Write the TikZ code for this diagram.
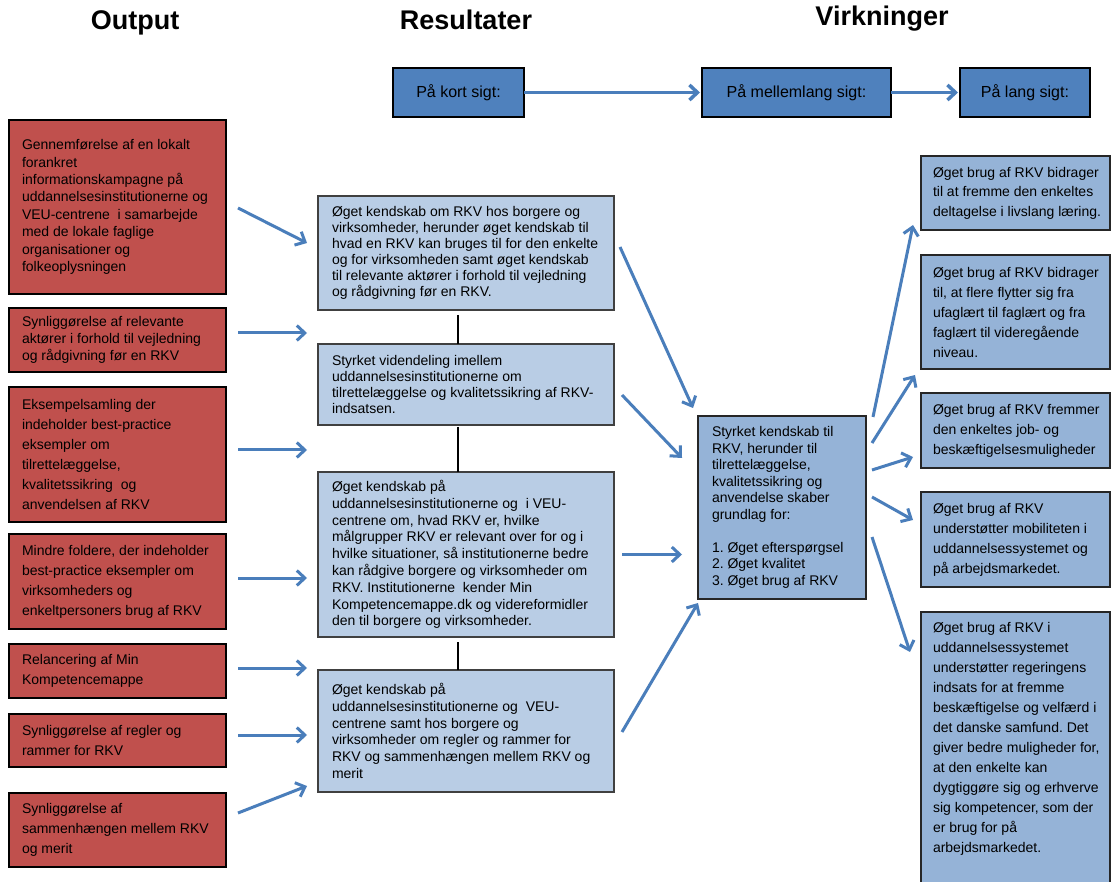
\documentclass[tikz,border=0pt]{standalone}
\usepackage{fontspec}
\setmainfont{Liberation Sans}
\usetikzlibrary{arrows.meta,calc}
\definecolor{redfill}{HTML}{C0504D}
\definecolor{paleblue}{HTML}{B9CDE5}
\definecolor{midblue}{HTML}{95B3D7}
\definecolor{topblue}{HTML}{4F81BD}
\definecolor{arrowblue}{HTML}{4A7EBB}
\definecolor{edgegray}{HTML}{404040}
\frenchspacing
\begin{document}
\begin{tikzpicture}[x=1pt,y=-1pt,
  every node/.style={inner sep=0pt, outer sep=0pt},
  redbox/.style={rectangle, draw=black, line width=1.2pt, fill=redfill, anchor=north west},
  palebox/.style={rectangle, draw=edgegray, line width=1.5pt, fill=paleblue, anchor=north west},
  bluebox/.style={rectangle, draw=black!85, line width=1.3pt, fill=midblue, anchor=north west},
  topbox/.style={rectangle, draw=black, line width=1.2pt, fill=topblue, anchor=north west, font=\fontsize{16}{18}\selectfont},
  bodytext/.style={align=left, anchor=west, text=black},
  title/.style={font=\bfseries\fontsize{27}{30}\selectfont, anchor=base},
  arr/.style={draw=arrowblue, line width=3pt, -{Straight Barb[length=8pt,width=15pt]}},
  joinline/.style={draw=black, line width=2pt}
]
\path[use as bounding box] (0,0) rectangle (1112,882);
\clip (0,0) rectangle (1112,882);
\fill[white] (0,0) rectangle (1112,882);

% titles
\node[title] (tOut) at (135,30) {Output};
\node[title] (tRes) at (466,30) {Resultater};
\node[title] (tVirk) at (882,26) {Virkninger};

% time boxes
\node[topbox, minimum width=131pt, minimum height=49pt] (k1) at (393,68) {På kort sigt:};
\node[topbox, minimum width=189pt, minimum height=49pt] (k2) at (702,68) {På mellemlang sigt:};
\node[topbox, minimum width=130pt, minimum height=49pt] (k3) at (960,68) {På lang sigt:};
\draw[arr, line width=3.5pt, shorten >=2pt] (k1) -- (k2);
\draw[arr, line width=3.5pt, shorten >=2pt] (k2) -- (k3);

% output boxes
\node[redbox, minimum width=217pt, minimum height=174pt] (o1) at (9,120) {};
\node[bodytext, font=\fontsize{14}{17.4}\selectfont] (o1t) at ($(o1.west)+(13,0)$)
 {Gennemførelse af en lokalt\\ forankret\\ informationskampagne på\\ uddannelsesinstitutionerne og\\ VEU-centrene\ \ i samarbejde\\ med de lokale faglige\\ organisationer og\\ folkeoplysningen};
\node[redbox, minimum width=217pt, minimum height=64pt] (o2) at (9,308) {};
\node[bodytext, font=\fontsize{14}{16.7}\selectfont] (o2t) at ($(o2.west)+(13,0)$)
 {Synliggørelse af relevante\\ aktører i forhold til vejledning\\ og rådgivning før en RKV};
\node[redbox, minimum width=217pt, minimum height=135pt] (o3) at (9,387) {};
\node[bodytext, font=\fontsize{14}{20}\selectfont] (o3t) at ($(o3.west)+(13,0)$)
 {Eksempelsamling der\\ indeholder best-practice\\ eksempler om\\ tilrettelæggelse,\\ kvalitetssikring\ \ og\\ anvendelsen af RKV};
\node[redbox, minimum width=217pt, minimum height=95pt] (o4) at (9,534) {};
\node[bodytext, font=\fontsize{14}{20}\selectfont] (o4t) at ($(o4.west)+(13,0)$)
 {Mindre foldere, der indeholder\\ best-practice eksempler om\\ virksomheders og\\ enkeltpersoners brug af RKV};
\node[redbox, minimum width=217pt, minimum height=54pt] (o5) at (9,644) {};
\node[bodytext, font=\fontsize{14}{20}\selectfont] (o5t) at ($(o5.west)+(13,0)$)
 {Relancering af Min\\ Kompetencemappe};
\node[redbox, minimum width=217pt, minimum height=53pt] (o6) at (9,714) {};
\node[bodytext, font=\fontsize{14}{20}\selectfont] (o6t) at ($(o6.west)+(13,0)$)
 {Synliggørelse af regler og\\ rammer for RKV};
\node[redbox, minimum width=217pt, minimum height=74pt] (o7) at (9,793) {};
\node[bodytext, font=\fontsize{14}{20}\selectfont] (o7t) at ($(o7.west)+(13,0)$)
 {Synliggørelse af\\ sammenhængen mellem RKV\\ og merit};

% result boxes
\node[palebox, minimum width=296pt, minimum height=114pt] (A) at (318,196) {};
\node[bodytext, font=\fontsize{14}{16}\selectfont] (At) at ($(A.west)+(14,0)$)
 {Øget kendskab om RKV hos borgere og\\ virksomheder, herunder øget kendskab til\\ hvad en RKV kan bruges til for den enkelte\\ og for virksomheden samt øget kendskab\\ til relevante aktører i forhold til vejledning\\ og rådgivning før en RKV.};
\node[palebox, minimum width=296pt, minimum height=81pt] (B) at (318,344) {};
\node[bodytext, font=\fontsize{14}{16.3}\selectfont] (Bt) at ($(B.west)+(14,0)$)
 {Styrket videndeling imellem\\ uddannelsesinstitutionerne om\\ tilrettelæggelse og kvalitetssikring af RKV-\\ indsatsen.};
\node[palebox, minimum width=296pt, minimum height=165pt] (C) at (318,472) {};
\node[bodytext, font=\fontsize{14}{16.8}\selectfont] (Ct) at ($(C.west)+(14,0)$)
 {Øget kendskab på\\ uddannelsesinstitutionerne og\ \ i VEU-\\ centrene om, hvad RKV er, hvilke\\ målgrupper RKV er relevant over for og i\\ hvilke situationer, så institutionerne bedre\\ kan rådgive borgere og virksomheder om\\ RKV. Institutionerne\ \ kender Min\\ Kompetencemappe.dk og videreformidler\\ den til borgere og virksomheder.};
\node[palebox, minimum width=296pt, minimum height=122pt] (D) at (318,670) {};
\node[bodytext, font=\fontsize{14}{16.8}\selectfont] (Dt) at ($(D.west)+(14,0)$)
 {Øget kendskab på\\ uddannelsesinstitutionerne og\ \ VEU-\\ centrene samt hos borgere og\\ virksomheder om regler og rammer for\\ RKV og sammenhængen mellem RKV og\\ merit};
\draw[joinline] ($(A.south)+(-8,5)$) -- ($(B.north)+(-8,0)$);
\draw[joinline] ($(B.south)+(-8,2)$) -- ($(C.north)+(-8,0)$);
\draw[joinline] ($(C.south)+(-8,5)$) -- ($(D.north)+(-8,0)$);

% central box
\node[bluebox, minimum width=168pt, minimum height=183pt] (E) at (698,416) {};
\node[bodytext, font=\fontsize{14}{16.5}\selectfont] (Et) at ($(E.west)+(14,0)$)
 {Styrket kendskab til\\ RKV, herunder til\\ tilrettelæggelse,\\ kvalitetssikring og\\ anvendelse skaber\\ grundlag for:\\[16.5pt] 1. Øget efterspørgsel\\ 2. Øget kvalitet\\ 3. Øget brug af RKV};

% effect boxes
\node[bluebox, minimum width=189pt, minimum height=74pt] (R1) at (921,156) {};
\node[bodytext, font=\fontsize{14}{19.5}\selectfont] (R1t) at ($(R1.west)+(12,0)$)
 {Øget brug af RKV bidrager\\ til at fremme den enkeltes\\ deltagelse i livslang læring.};
\node[bluebox, minimum width=189pt, minimum height=114pt] (R2) at (921,255) {};
\node[bodytext, font=\fontsize{14}{20}\selectfont] (R2t) at ($(R2.west)+(12,0)$)
 {Øget brug af RKV bidrager\\ til, at flere flytter sig fra\\ ufaglært til faglært og fra\\ faglært til videregående\\ niveau.};
\node[bluebox, minimum width=189pt, minimum height=75pt] (R3) at (921,393) {};
\node[bodytext, font=\fontsize{14}{20}\selectfont] (R3t) at ($(R3.west)+(12,0)$)
 {Øget brug af RKV fremmer\\ den enkeltes job- og\\ beskæftigelsesmuligheder};
\node[bluebox, minimum width=189pt, minimum height=95pt] (R4) at (921,492) {};
\node[bodytext, font=\fontsize{14}{20}\selectfont] (R4t) at ($(R4.west)+(12,0)$)
 {Øget brug af RKV\\ understøtter mobiliteten i\\ uddannelsessystemet og\\ på arbejdsmarkedet.};
\node[bluebox, minimum width=189pt, minimum height=300pt] (R5) at (921,612) {};
\node[bodytext, anchor=north west, font=\fontsize{14}{20}\selectfont] (R5t) at ($(R5.north west)+(12,10)$)
 {Øget brug af RKV i\\ uddannelsessystemet\\ understøtter regeringens\\ indsats for at fremme\\ beskæftigelse og velfærd i\\ det danske samfund. Det\\ giver bedre muligheder for,\\ at den enkelte kan\\ dygtiggøre sig og erhverve\\ sig kompetencer, som der\\ er brug for på\\ arbejdsmarkedet.};

% output -> results
\draw[arr] ($(o1.east)+(12,1)$) -- ($(A.west)+(-11,-10)$);
\draw[arr] ($(o2.east)+(12,-7)$) -- ($(o2.east -| A.west)+(-11,-7)$);
\draw[arr] ($(o3.east)+(12,-4.5)$) -- ($(o3.east -| A.west)+(-11,-4.5)$);
\draw[arr] ($(o4.east)+(12,-3.5)$) -- ($(o4.east -| C.west)+(-11,-3.5)$);
\draw[arr] ($(o5.east)+(12,-3)$) -- ($(o5.east -| D.west)+(-11,-3)$);
\draw[arr] ($(o6.east)+(12,-5.5)$) -- ($(o6.east -| D.west)+(-11,-5.5)$);
\draw[arr] ($(o7.east)+(12,-17)$) -- ($(D.west)+(-11,55)$);

% results -> central
\draw[arr] ($(A.east)+(6,-6)$) -- ($(E.north west)+(-5,-8)$);
\draw[arr] ($(B.east)+(8,10.5)$) -- ($(E.west)+(-16,-49.5)$);
\draw[arr] ($(C.east)+(8,0)$) -- ($(C.east -| E.west)+(-16,0)$);
\draw[arr] ($(D.east)+(8,1)$) -- ($(E.south west)+(0,4)$);

% central -> effects
\draw[arr] ($(E.north east)+(7,1)$) -- ($(R1.south west)+(-8,-5)$);
\draw[arr] ($(E.north east)+(6,27)$) -- ($(R2.south west)+(-6,6)$);
\draw[arr] ($(E.north east)+(6,54)$) -- ($(R3.south west)+(-8,-11)$);
\draw[arr] ($(E.north east)+(6,81)$) -- ($(R4.north west)+(-8,28)$);
\draw[arr] ($(E.north east)+(6,121)$) -- ($(R5.north west)+(-11,40)$);
\end{tikzpicture}
\end{document}
